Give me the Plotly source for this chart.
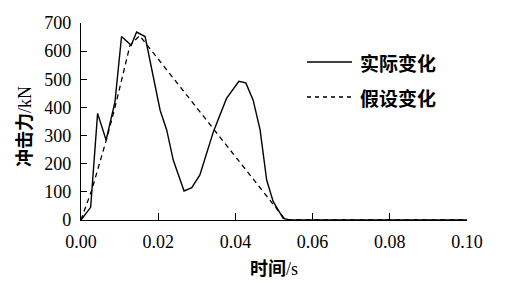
import plotly.graph_objects as go

# Actual change (solid)
t_actual = [0.0, 0.0025, 0.0043, 0.0065, 0.0088, 0.0105, 0.013, 0.0144, 0.0166, 0.0192,
            0.0205, 0.0222, 0.0239, 0.0267, 0.0287, 0.0308, 0.0343, 0.0377, 0.0409,
            0.0427, 0.0446, 0.0464, 0.0481, 0.0498, 0.0524, 0.0541, 0.07, 0.1]
f_actual = [0, 45, 379, 284, 420, 652, 621, 668, 652, 473,
            390, 320, 213, 103, 115, 160, 314, 432, 493,
            487, 426, 320, 142, 65, 6, 0, 0, 0]

# Assumed change (dashed)
t_assumed = [0.0, 0.0028, 0.0067, 0.0088, 0.0127, 0.0152, 0.053, 0.1]
f_assumed = [0, 107, 291, 400, 621, 655, 0, 0]

x_ticks = [0.0, 0.02, 0.04, 0.06, 0.08, 0.10]
x_ticklabels = ["0.00", "0.02", "0.04", "0.06", "0.08", "0.10"]
y_ticks = [0, 100, 200, 300, 400, 500, 600, 700]

serif = "Liberation Serif"
cjk = "Noto Sans CJK SC"

fig = go.Figure()
fig.add_trace(go.Scatter(x=t_actual, y=f_actual, mode="lines",
                         line=dict(color="black", width=1.4), showlegend=False))
fig.add_trace(go.Scatter(x=t_assumed, y=f_assumed, mode="lines",
                         line=dict(color="black", width=1.3, dash="5px,4px"), showlegend=False))

# legend drawn as lines + text in paper coords
fig.add_shape(type="line", xref="paper", yref="paper", x0=(307-81)/386, x1=(352-81)/386,
              y0=(220-62)/197, y1=(220-62)/197, line=dict(color="black", width=1.4))
fig.add_shape(type="line", xref="paper", yref="paper", x0=(307-81)/386, x1=(352-81)/386,
              y0=(220-97)/197, y1=(220-97)/197, line=dict(color="black", width=1.3, dash="4px,4px"))
fig.add_annotation(xref="paper", yref="paper", x=(358-81)/386, y=(220-62)/197,
                   text="<b>实际变化</b>", showarrow=False, xanchor="left", yanchor="middle",
                   font=dict(family=cjk, size=19, color="black"))
fig.add_annotation(xref="paper", yref="paper", x=(358-81)/386, y=(220-97)/197,
                   text="<b>假设变化</b>", showarrow=False, xanchor="left", yanchor="middle",
                   font=dict(family=cjk, size=19, color="black"))

# axis titles
fig.add_annotation(xref="paper", yref="paper", x=(274-81)/386, y=-(267-220)/197,
                   text="<b>时间</b><span style=\"font-family:'Liberation Serif',serif\">/s</span>",
                   showarrow=False, xanchor="center", yanchor="middle",
                   font=dict(family=cjk, size=18, color="black"))
fig.add_annotation(xref="paper", yref="paper", x=-(81-23)/386, y=(220-127)/197,
                   text="<b>冲击力</b><span style=\"font-family:'Liberation Serif',serif\">/kN</span>",
                   showarrow=False, xanchor="center", yanchor="middle", textangle=-90,
                   font=dict(family=cjk, size=18, color="black"))

fig.update_xaxes(range=[0, 0.1], tickvals=x_ticks, ticktext=x_ticklabels,
                 showgrid=False, zeroline=False, showline=True, linecolor="black", linewidth=1.3,
                 ticks="inside", ticklen=7, tickcolor="black", tickwidth=1.3,
                 tickfont=dict(family=serif, size=18, color="black"), ticklabelstandoff=5)
fig.update_yaxes(range=[0, 700], tickvals=y_ticks,
                 showgrid=False, zeroline=False, showline=True, linecolor="black", linewidth=1.3,
                 ticks="inside", ticklen=6, tickcolor="black", tickwidth=1.3,
                 tickfont=dict(family=serif, size=18, color="black"), ticklabelstandoff=5)

fig.update_layout(width=528, height=285, margin=dict(l=81, r=61, t=23, b=65),
                  plot_bgcolor="white", paper_bgcolor="white", showlegend=False)

fig.write_html("out.html", config={"displayModeBar": False},
               post_script="document.body.style.margin='0';")
